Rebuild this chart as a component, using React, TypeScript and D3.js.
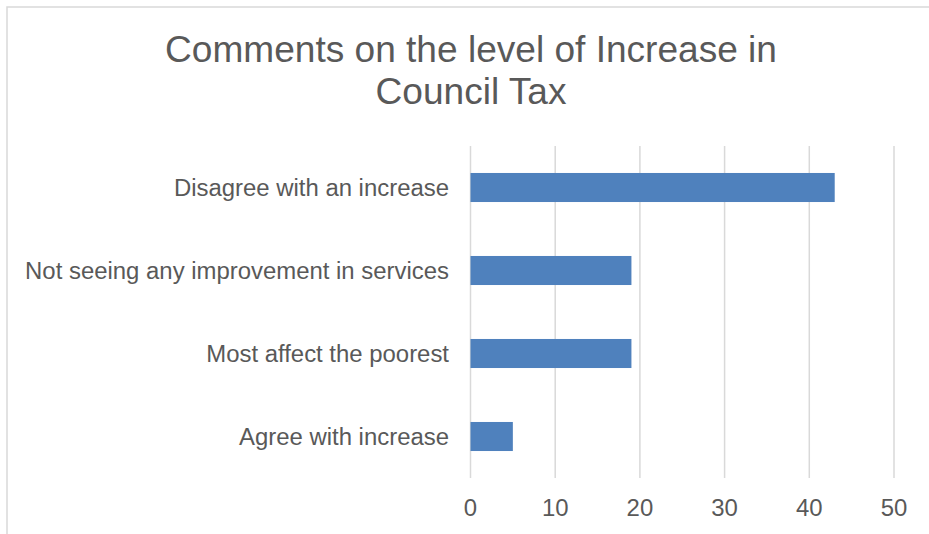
import React from "react";
import * as d3 from "d3";

const categories = [
  "Disagree with an increase",
  "Not seeing any improvement in services",
  "Most affect the poorest",
  "Agree with increase",
];
const values = [43, 19, 19, 5];
const tickValues = [0, 10, 20, 30, 40, 50];
const titleLines = ["Comments on the level of Increase in", "Council Tax"];

export default function App() {
  const W = 929;
  const H = 534;
  const x = d3.scaleLinear().domain([0, 50]).range([470.5, 894]);
  const y = d3
    .scaleBand<string>()
    .domain(categories)
    .range([146, 478])
    .paddingInner(0.65)
    .paddingOuter(0.325);
  const font = "'Liberation Sans', Arial, sans-serif";
  const textColor = "#595959";
  return (
    <svg
      width={W}
      height={H}
      style={{ position: "absolute", left: 0, top: 0, background: "#fff" }}
      fontFamily={font}
    >
      <rect x={0} y={0} width={W} height={H} fill="#fff" />
      <rect x={7} y={7} width={W + 20} height={H + 20} fill="none" stroke="#D9D9D9" strokeWidth={1.5} />
      {titleLines.map((t, i) => (
        <text
          key={i}
          transform={`translate(471,${62 + i * 42}) scale(1.03,1)`}
          textAnchor="middle"
          fontSize={36}
          fill={textColor}
        >
          {t}
        </text>
      ))}
      {tickValues.map((v) => (
        <line key={"g" + v} x1={x(v)} x2={x(v)} y1={146} y2={478} stroke="#D9D9D9" strokeWidth={1.5} />
      ))}
      {categories.map((c, i) => (
        <rect
          key={c}
          x={x(0)}
          y={y(c)!}
          width={x(values[i]) - x(0)}
          height={y.bandwidth()}
          fill="#4F81BD"
        />
      ))}
      {categories.map((c) => (
        <text
          key={"l" + c}
          transform={`translate(449,${y(c)! + y.bandwidth() / 2 + 8.5}) scale(1.04,1)`}
          textAnchor="end"
          fontSize={23}
          fill={textColor}
        >
          {c}
        </text>
      ))}
      {tickValues.map((v) => (
        <text
          key={"t" + v}
          transform={`translate(${x(v)},516) scale(1.04,1)`}
          textAnchor="middle"
          fontSize={23}
          fill={textColor}
        >
          {v}
        </text>
      ))}
    </svg>
  );
}
